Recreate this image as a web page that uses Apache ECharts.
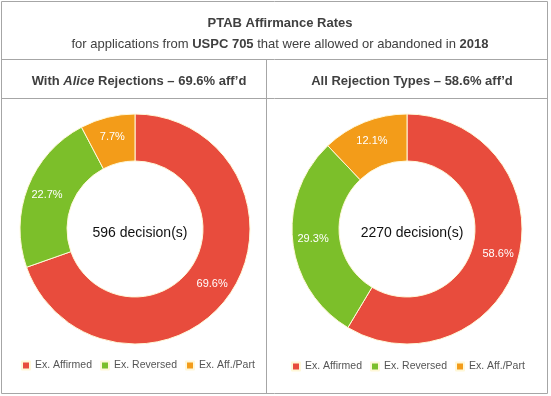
<!DOCTYPE html>
<html>
<head>
<meta charset="utf-8">
<script src="https://cdn.jsdelivr.net/npm/echarts@6/dist/echarts.min.js"></script>
<style>
  html, body { margin: 0; padding: 0; background: #fff; }
  #chart { width: 551px; height: 396px; }
</style>
</head>
<body>
<div id="chart"></div>
<script>
const categories = ['Ex. Affirmed', 'Ex. Reversed', 'Ex. Aff./Part']
const aliceValues = [69.6, 22.7, 7.7]
const allValues = [58.6, 29.3, 12.1]
const aliceTotal = 596
const allTotal = 2270
const colorList = ['#e84c3d', '#7cbf2a', '#f39c19']

const chart = echarts.init(document.getElementById('chart'))
const font = 'Liberation Sans, Arial, sans-serif'
const lineStyle = { stroke: '#a6a6a6', lineWidth: 1 }

// 把数组转成饼图数据
function toData(vals) {
  return vals.map((v, i) => ({ name: categories[i], value: v }))
}

function ring(vals, cx) {
  return {
    type: 'pie',
    center: [cx, 229],
    radius: [68, 115],
    startAngle: 90,
    clockwise: true,
    avoidLabelOverlap: false,
    itemStyle: { borderColor: '#fff8d8', borderWidth: 1 },
    label: {
      show: true,
      position: 'inside',
      formatter: '{c}%',
      color: '#fff',
      fontSize: 11,
      fontFamily: font
    },
    labelLine: { show: false },
    emphasis: { disabled: true },
    data: toData(vals)
  }
}

function legend(left, top) {
  return {
    data: categories,
    left: left, top: top,
    padding: 0,
    icon: 'rect', itemWidth: 8, itemHeight: 8, itemGap: 8,
    selectedMode: false,
    textStyle: { fontSize: 10.5, color: '#555', fontFamily: font }
  }
}

const option = {
  color: colorList,
  animation: false,
  title: [
    {
      text: 'PTAB Affirmance Rates',
      left: 275, top: 12, textAlign: 'center',
      textStyle: { fontSize: 13, fontWeight: 'bold', color: '#404040', fontFamily: font }
    },
    {
      text: '{n|for applications from }{b|USPC 705}{n| that were allowed or abandoned in }{b|2018}',
      left: 275, top: 33, textAlign: 'center',
      textStyle: {
        fontWeight: 'normal',
        rich: {
          n: { fontSize: 13, color: '#404040', fontWeight: 'normal', fontFamily: font },
          b: { fontSize: 13, color: '#404040', fontWeight: 'bold', fontFamily: font }
        }
      }
    },
    {
      text: '{b|With }{i|Alice}{b| Rejections \u2013 69.6% aff\u2019d}',
      left: 134, top: 70, textAlign: 'center',
      textStyle: {
        rich: {
          b: { fontSize: 13, color: '#404040', fontWeight: 'bold', fontFamily: font },
          i: { fontSize: 13, color: '#404040', fontWeight: 'bold', fontStyle: 'italic', fontFamily: font }
        }
      }
    },
    {
      text: 'All Rejection Types \u2013 58.6% aff\u2019d',
      left: 407, top: 70, textAlign: 'center',
      textStyle: { fontSize: 13, fontWeight: 'bold', color: '#404040', fontFamily: font }
    },
    {
      text: aliceTotal + ' decision(s)',
      left: 135, top: 221, textAlign: 'center',
      textStyle: { fontSize: 14, fontWeight: 'normal', color: '#111', fontFamily: font }
    },
    {
      text: allTotal + ' decision(s)',
      left: 407, top: 221, textAlign: 'center',
      textStyle: { fontSize: 14, fontWeight: 'normal', color: '#111', fontFamily: font }
    }
  ],
  legend: [legend(21, 360), legend(291, 361)],
  graphic: [
    { type: 'rect', shape: { x: 1.5, y: 1.5, width: 546, height: 392 }, style: { fill: 'none', stroke: '#a6a6a6', lineWidth: 1 } },
    { type: 'line', shape: { x1: 1.5, y1: 59.5, x2: 547.5, y2: 59.5 }, style: lineStyle },
    { type: 'line', shape: { x1: 1.5, y1: 98.5, x2: 547.5, y2: 98.5 }, style: lineStyle },
    { type: 'line', shape: { x1: 266.5, y1: 59.5, x2: 266.5, y2: 393.5 }, style: lineStyle }
  ],
  series: [ring(aliceValues, 135), ring(allValues, 407)]
}
chart.setOption(option)
</script>
</body>
</html>
